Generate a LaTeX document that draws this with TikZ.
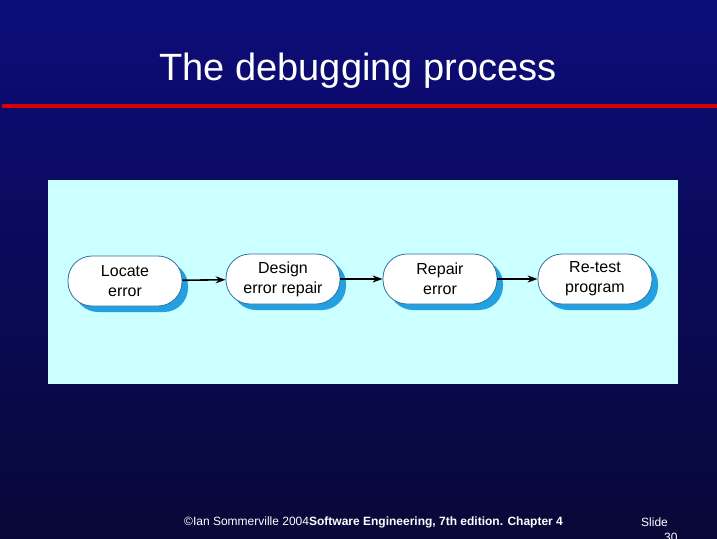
\documentclass[tikz,border=0pt]{standalone}
\usepackage{fontspec}
\setmainfont{Liberation Sans}
\usetikzlibrary{arrows.meta,shadows}
\definecolor{bgtop}{HTML}{0C0C7A}
\definecolor{bgbot}{HTML}{080838}
\definecolor{panel}{HTML}{CCFFFF}
\definecolor{shad}{HTML}{22A0E0}
\definecolor{edge}{HTML}{3070A0}
\tikzset{
  proc/.style={draw=edge, line width=0.8pt, fill=white, minimum width=114pt, minimum height=50pt,
    rounded corners=24pt, align=center, font=\fontsize{16}{20}\selectfont,
    drop shadow={shadow xshift=6pt, shadow yshift=-6pt, fill=shad, opacity=1}},
  flow/.style={-{Stealth[length=10pt,width=7pt]}, line width=1.6pt, black}
}
\begin{document}
\begin{tikzpicture}[x=1pt,y=-1pt]
\useasboundingbox (0,0) rectangle (717,538);
\shade[top color=bgtop, bottom color=bgbot] (0,0) rectangle (717,538);
\fill[red!85!black] (2,104) rectangle (717,108);
\node[text=white, font=\fontsize{38}{44}\selectfont] (title) at (358,71) {The debugging process};
\fill[panel] (48,180) rectangle (678,384);
\node[proc] (a) at (125,281) {Locate\\error};
\node[proc] (b) at (283,279) {Design\\error repair};
\node[proc] (c) at (440,279) {Repair\\error};
\node[proc] (d) at (595,279) {Re-test\\program};
\draw[flow] (a) -- (b);
\draw[flow] (b) -- (c);
\draw[flow] (c) -- (d);
\node[text=white, anchor=west, font=\fontsize{12}{14}\selectfont, inner sep=0] (f) at (184,522)
  {©Ian Sommerville 2004\textbf{Software Engineering, 7th edition. Chapter 4}};
\node[text=white, anchor=west, font=\fontsize{12}{14}\selectfont, inner sep=0] (s) at (641,522) {Slide};
\node[text=white, anchor=west, font=\fontsize{12}{14}\selectfont, inner sep=0] (n) at (664,537) {30};
\end{tikzpicture}
\end{document}
